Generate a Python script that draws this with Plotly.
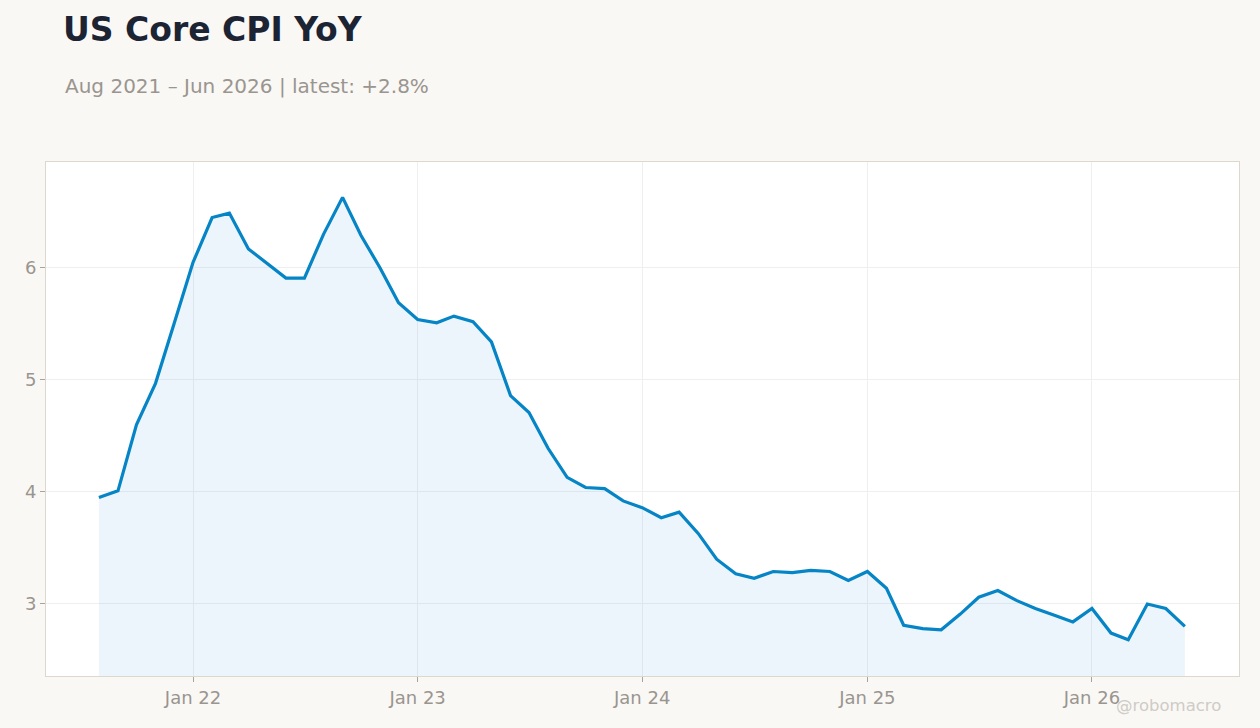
import plotly.graph_objects as go
import pandas as pd

# Monthly core CPI YoY, Aug 2021 .. Jun 2026
months = pd.date_range("2021-08-01", "2026-06-01", freq="MS")
core_cpi_yoy = [
    3.95, 4.01, 4.60, 4.97, 5.50,                                       # 2021
    6.05, 6.45, 6.49, 6.17, 6.04, 5.91, 5.91, 6.30, 6.63, 6.29, 6.00, 5.69,  # 2022
    5.54, 5.51, 5.57, 5.52, 5.34, 4.86, 4.71, 4.39, 4.13, 4.04, 4.03, 3.92,  # 2023
    3.86, 3.77, 3.82, 3.63, 3.40, 3.27, 3.23, 3.29, 3.28, 3.30, 3.29, 3.21,  # 2024
    3.29, 3.14, 2.81, 2.78, 2.77, 2.91, 3.06, 3.12, 3.03, 2.96, 2.90, 2.84,  # 2025
    2.96, 2.74, 2.68, 3.00, 2.96, 2.80,                                 # 2026
]

title_text = "US Core CPI YoY"
subtitle_text = "Aug 2021 \u2013 Jun 2026 | latest: +2.8%"
watermark = "@robomacro"

FONT = "DejaVu Sans"
BG = "#f9f8f5"
LINE = "#0584c6"
GRID = "#efefef"
TICKCOL = "#9a958f"

fig = go.Figure()
fig.add_trace(go.Scatter(
    x=months, y=core_cpi_yoy, mode="lines",
    line=dict(color=LINE, width=3.2),
    fill="tozeroy", fillcolor="rgba(10,133,199,0.08)",
    hoverinfo="x+y", showlegend=False,
))

fig.update_layout(
    width=1260, height=728,
    paper_bgcolor=BG, plot_bgcolor="#ffffff",
    margin=dict(l=46, r=21, t=162, b=52),
    font=dict(family=FONT, color=TICKCOL, size=18),
    title=dict(text="<b>" + title_text + "</b>", xref="container", yref="container",
               x=63 / 1260, xanchor="left", y=1 - 29 / 728, yanchor="middle",
               font=dict(family=FONT, size=33, color="#1c2333")),
)
fig.add_annotation(text=subtitle_text, xref="paper", yref="paper",
                   x=(63 - 46) / 1193, xanchor="left", y=1 + (162 - 86) / 514, yanchor="middle",
                   showarrow=False, font=dict(family=FONT, size=20, color="#9a958f"))
fig.add_annotation(text=watermark, xref="paper", yref="paper",
                   x=(1223 - 46) / 1193, xanchor="right", y=-(705 - 676) / 514, yanchor="middle",
                   showarrow=False, font=dict(family=FONT, size=16.5, color="#cfcbc5"))

fig.update_xaxes(
    range=["2021-05-07", "2026-08-28"], dtick="M12", tick0="2022-01-01", tickformat="%b %y",
    showgrid=True, gridcolor=GRID, zeroline=False,
    showline=True, mirror=True, linecolor="#ddd7ce", linewidth=1,
    ticks="outside", ticklen=5, tickcolor="#a8a39c",
    tickfont=dict(size=18, color=TICKCOL),
)
fig.update_yaxes(
    range=[2.357, 6.946], dtick=1, showgrid=True, gridcolor=GRID, zeroline=False,
    showline=True, mirror=True, linecolor="#ddd7ce", linewidth=1,
    ticks="outside", ticklen=5, tickcolor="#a8a39c",
    tickfont=dict(size=18, color=TICKCOL),
)

# the page margin would otherwise push the chart 8px off the window edge
fig.write_html("out.html", config={"displayModeBar": False},
               post_script="document.body.style.margin='0';document.body.style.background='" + BG + "';")
